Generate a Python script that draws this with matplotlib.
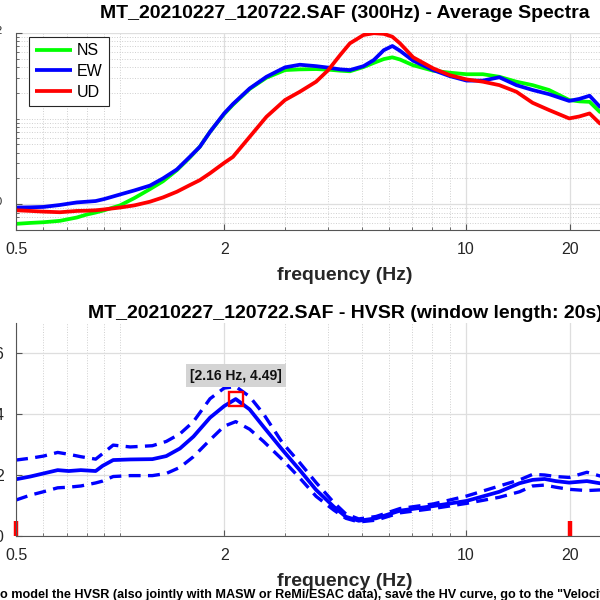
import numpy as np
import matplotlib
matplotlib.use("Agg")
import matplotlib.pyplot as plt
from matplotlib.ticker import FixedLocator, FixedFormatter, LogLocator, NullFormatter

plt.rcParams['font.family'] = ['Liberation Sans', 'DejaVu Sans']
plt.rcParams['mathtext.fontset'] = 'custom'
plt.rcParams['mathtext.rm'] = 'Liberation Sans'
plt.rcParams['mathtext.it'] = 'Liberation Sans:italic'
plt.rcParams['mathtext.bf'] = 'Liberation Sans:bold'

# ---------------- data: average spectra ----------------
spec_freq = [0.5, 0.55, 0.6, 0.67, 0.75, 0.8, 0.85, 0.9, 1.0, 1.1, 1.22, 1.33, 1.46, 1.59,
             1.7, 1.82, 2.0, 2.12, 2.37, 2.65, 3.0, 3.31, 3.69, 4.0, 4.33, 4.62, 5.06, 5.42,
             5.79, 6.13, 6.45, 7.04, 8.04, 8.98, 10.05, 11.2, 12.5, 14.0, 15.6, 17.4, 19.9,
             21.3, 22.8, 24.4, 27.0]
ns = [0.59, 0.605, 0.616, 0.64, 0.70, 0.757, 0.80, 0.85, 0.97, 1.18, 1.50, 1.85, 2.5, 3.5,
      4.68, 7.0, 11.3, 14.5, 22.2, 30.0, 36.9, 37.6, 37.9, 37.3, 36.3, 35.7, 40.0, 44.8,
      49.6, 52.0, 49.0, 42.0, 36.3, 34.4, 33.0, 33.0, 30.8, 27.0, 24.6, 21.6, 16.5,
      15.9, 15.7, 12.0, 10.5]
ew = [0.915, 0.92, 0.93, 0.98, 1.05, 1.07, 1.09, 1.15, 1.3, 1.45, 1.65, 2.0, 2.55, 3.57,
      4.68, 7.0, 11.5, 14.8, 22.5, 30.8, 39.7, 42.6, 41.0, 39.4, 37.6, 36.9, 41.0, 48.4,
      63.0, 70.5, 62.0, 47.5, 36.9, 31.4, 27.8, 27.8, 30.4, 24.6, 21.6, 19.3, 16.1,
      17.0, 18.5, 13.8, 11.5]
ud = [0.85, 0.835, 0.82, 0.806, 0.835, 0.84, 0.85, 0.87, 0.915, 0.97, 1.07, 1.2, 1.40, 1.67,
      1.91, 2.3, 3.04, 3.57, 6.12, 10.5, 16.5, 20.6, 27.0, 36.9, 55.3, 75.7, 94.8, 99.5,
      97.7, 90.5, 75.7, 52.0, 38.7, 32.2, 28.7, 27.0, 24.6, 20.6, 15.3, 12.6, 10.05,
      10.6, 11.5, 8.8, 7.5]
spec_labels = ['NS', 'EW', 'UD']
spec_colors = ['#00ff00', '#0000ff', '#ff0000']

# ---------------- data: HVSR ----------------
hv_freq = [0.5, 0.55, 0.6, 0.66, 0.71, 0.77, 0.85, 0.89, 0.955, 1.07, 1.24, 1.36, 1.49, 1.63,
           1.82, 2.0, 2.16, 2.37, 2.6, 2.95, 3.31, 3.69, 4.15, 4.5, 4.9, 5.5, 6.45, 8.04,
           10.05, 12.5, 14.3, 15.6, 16.9, 18.2, 19.9, 22.4, 24.4, 27.0]
hv_mean = [1.86, 1.95, 2.05, 2.16, 2.13, 2.16, 2.13, 2.30, 2.49, 2.51, 2.52, 2.62, 2.87, 3.26,
           3.88, 4.26, 4.49, 4.15, 3.58, 2.82, 2.16, 1.51, 0.96, 0.63, 0.50, 0.58, 0.83, 0.98,
           1.15, 1.45, 1.73, 1.84, 1.87, 1.80, 1.75, 1.80, 1.73, 1.70]
hv_upper = [2.49, 2.55, 2.62, 2.74, 2.68, 2.6, 2.52, 2.7, 2.98, 2.92, 2.96, 3.1, 3.35, 3.75,
            4.5, 4.85, 4.9, 4.57, 4.0, 3.05, 2.4, 1.75, 1.1, 0.72, 0.56, 0.64, 0.9, 1.05,
            1.31, 1.64, 1.84, 2.02, 2.0, 1.95, 1.92, 2.09, 1.97, 1.9]
hv_lower = [1.18, 1.34, 1.45, 1.58, 1.6, 1.64, 1.74, 1.8, 1.95, 1.98, 1.98, 2.05, 2.25, 2.6,
            3.15, 3.6, 3.75, 3.5, 3.1, 2.5, 1.9, 1.3, 0.85, 0.58, 0.46, 0.52, 0.76, 0.9,
            1.07, 1.27, 1.45, 1.64, 1.67, 1.6, 1.53, 1.49, 1.51, 1.5]
peak_freq = 2.16
peak_amp = 4.49
peak_text = '[2.16 Hz, 4.49]'
limit_freqs = [0.5, 20]

x_ticks = [0.5, 2, 10, 20]
x_tick_labels = ['0.5', '2', '10', '20']
spec_y_ticks = [1, 100]
hv_y_ticks = [0, 2, 4, 6]

title_top = 'MT_20210227_120722.SAF (300Hz) - Average Spectra'
title_bottom = 'MT_20210227_120722.SAF - HVSR (window length: 20s)'
xlabel = 'frequency (Hz)'
footer = 'o model the HVSR (also jointly with MASW or ReMi/ESAC data), save the HV curve, go to the "Velocit'

# ---------------- figure ----------------
W = 600.0
fig = plt.figure(figsize=(6, 6), dpi=100)
fig.patch.set_facecolor('white')


def rect(l, t, r, b):
    return [l / W, 1 - b / W, (r - l) / W, (b - t) / W]


ax1 = fig.add_axes(rect(16, 33, 674, 230))
ax2 = fig.add_axes(rect(16, 322.5, 674, 536))

axc = '#262626'
for ax in (ax1, ax2):
    ax.set_xscale('log')
    ax.set_xlim(0.5, 40)
    ax.xaxis.set_major_locator(FixedLocator(x_ticks))
    ax.xaxis.set_major_formatter(FixedFormatter(x_tick_labels))
    ax.xaxis.set_minor_locator(LogLocator(base=10, subs=np.arange(1, 10), numticks=50))
    ax.xaxis.set_minor_formatter(NullFormatter())
    ax.set_axisbelow(True)
    for s in ('top', 'right'):
        ax.spines[s].set_visible(False)
    for s in ('left', 'bottom'):
        ax.spines[s].set_color('#555555')
        ax.spines[s].set_linewidth(0.8)
    ax.tick_params(which='both', direction='in', colors='#555555', labelcolor=axc,
                   labelsize=11.5, top=False, right=False)
    ax.tick_params(which='major', length=4, pad=9)
    ax.tick_params(which='minor', length=2.5)
    ax.grid(which='major', axis='both', color='#dedede', lw=0.9, ls='-')
    ax.grid(which='minor', axis='x', color='#cfcfcf', lw=0.7, ls=':')
    ax.set_xlabel(xlabel, fontsize=14, fontweight='bold', color=axc, labelpad=7)

# ---- top: spectra
ax1.set_yscale('log')
ax1.set_ylim(0.5, 100)
ax1.yaxis.set_major_locator(FixedLocator(spec_y_ticks))
ax1.yaxis.set_minor_locator(LogLocator(base=10, subs=np.arange(1, 10), numticks=50))
ax1.yaxis.set_minor_formatter(NullFormatter())
ax1.grid(which='minor', axis='y', color='#cfcfcf', lw=0.7, ls=':')
for vals, lab, col in zip([ns, ew, ud], spec_labels, spec_colors):
    ax1.plot(spec_freq, vals, color=col, lw=2.7, label=lab, solid_capstyle='butt')
ax1.set_title(title_top, fontsize=14, fontweight='bold', pad=11)
leg = ax1.legend(loc='upper left', bbox_to_anchor=(29 / W, 1 - 37 / W),
                 bbox_transform=fig.transFigure, borderaxespad=0, fontsize=11.5,
                 fancybox=False, edgecolor='#262626', framealpha=1,
                 handlelength=2.3, handletextpad=0.3, borderpad=0.4, labelspacing=0.35)
leg.get_frame().set_linewidth(0.8)

# ---- bottom: HVSR
ax2.set_ylim(0, 7)
ax2.yaxis.set_major_locator(FixedLocator(hv_y_ticks))
ax2.plot(hv_freq, hv_mean, color='#0000ff', lw=2.7)
ax2.plot(hv_freq, hv_upper, color='#0000ff', lw=2.4, ls=(0, (3.6, 2.2)))
ax2.plot(hv_freq, hv_lower, color='#0000ff', lw=2.4, ls=(0, (3.6, 2.2)))
ax2.vlines(limit_freqs, 0, 0.5, colors='#ff0000', lw=3.2, clip_on=False)
ax2.plot([peak_freq], [peak_amp], 's', mfc='none', mec='#ff0000', ms=9.5, mew=1.7)
ax2.text(peak_freq, 5.26, peak_text, ha='center', va='center', fontsize=10,
         fontweight='bold', color='#111111',
         bbox=dict(boxstyle='square,pad=0.3', fc='#d4d4d4', ec='none'))
ax2.set_title(title_bottom, fontsize=14, fontweight='bold', pad=3)

fig.text(0.0, 2 / W, footer, fontsize=9.1, fontweight='bold', ha='left', va='baseline',
         color='black')

fig.savefig('out.png', dpi=100)
